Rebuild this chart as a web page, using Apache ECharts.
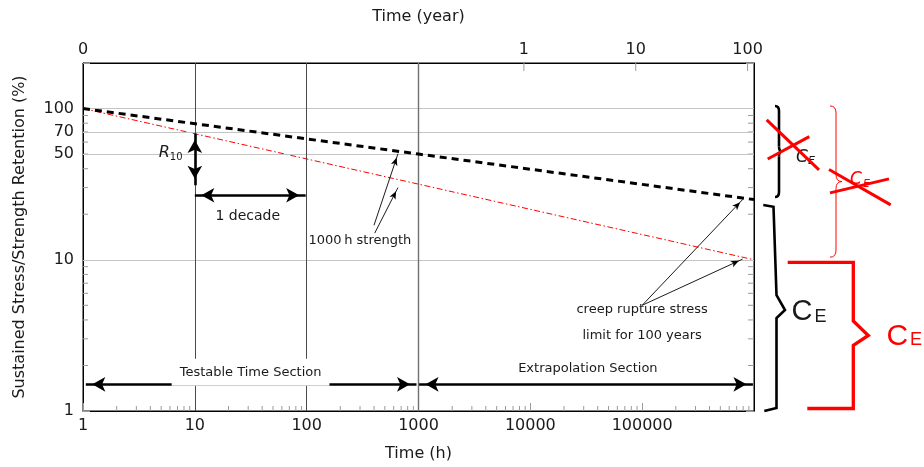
<!DOCTYPE html>
<html><head><meta charset="utf-8">
<script src="https://cdn.jsdelivr.net/npm/echarts@6/dist/echarts.min.js"></script>
<style>html,body{margin:0;padding:0;background:#fff}#c{width:924px;height:467px}</style>
</head><body><div id="c"></div>
<script>
// ---------------- data ----------------
const xRange = [1, 1000000];                 // time (h)
const yRange = [1, 200];                     // retention (%)
const hourTickLabels = [1, 10, 100, 1000, 10000, 100000];
const retentionTickLabels = [1, 10, 50, 70, 100];
const retentionGridLines = [10, 50, 70, 100];
const yearTickLabels = [0, 1, 10, 100];
const HOURS_PER_YEAR = 8760;
const sectionBoundaries = [10, 100, 1000];
const sustainedStress = [[1, 100], [1000, 50], [1000000, 25]];   // black dashed
const strengthRetention = [[1, 100], [1000000, 10]];             // red dash-dot
const r10Arrow = [[10, 68.3], [10, 31.1]];
const decadeArrow = [[10, 26.7], [98, 26.7]];
const testableArrow = [[1.06, 1.5], [960, 1.5]];
const extrapolationArrow = [[1012, 1.5], [978000, 1.5]];
const strengthPointers = [[[400, 16.9], [655, 50.2]], [[406, 15.0], [655, 30.0]]];
const creepPointers = [[[100000, 5.0], [795000, 25.1]], [[100000, 5.0], [790000, 10.1]]];
const crossedBraceBlack = [104, 26];
const crossedBraceRed = [104, 10.4];
const ceBraceBlack = [23, 1];
const ceBraceRed = [9.6, 1];

(function () {
// ---------------- chart ----------------
const FONT = '"DejaVu Sans", sans-serif';
const GRID = {left: 83, right: 170, top: 63, bottom: 56};
const tickGray = '#9a9a9a';

const chart = echarts.init(document.getElementById('c'));

function markLineSeries(name, z, mlData, lineStyle, extra) {
  return {
    name, type: 'line', data: [], z, silent: true,
    xAxisIndex: 0, yAxisIndex: 0,
    markLine: Object.assign({
      silent: true, animation: false, symbol: ['none', 'none'],
      label: {show: false}, lineStyle, data: mlData
    }, extra || {})
  };
}

const thickArrowEnd = (c) => ({coord: c, symbolOffset: [0, 6.5]});
const thinArrowEnd = (c) => ({coord: c, symbolOffset: [0, 4]});

const option = {
  animation: false,
  textStyle: {fontFamily: FONT},
  grid: Object.assign({show: true, borderColor: '#000', borderWidth: 1, containLabel: false, outerBoundsMode: 'none'}, GRID),
  xAxis: [{
    type: 'log', logBase: 10, min: xRange[0], max: xRange[1], position: 'bottom',
    axisLine: {show: true, lineStyle: {color: '#000', width: 1}},
    axisTick: {show: true, inside: true, length: 8, lineStyle: {color: tickGray}},
    axisLabel: {show: true, fontSize: 16, color: '#1a1a1a', margin: 7, showMaxLabel: false,
      formatter: v => hourTickLabels.indexOf(Math.round(v)) >= 0 ? String(Math.round(v)) : ''},
    splitLine: {show: false},
    name: 'Time (h)', nameLocation: 'middle', nameGap: 35,
    nameTextStyle: {fontSize: 16, color: '#1a1a1a', fontFamily: FONT}
  }, {
    type: 'log', logBase: 10, min: xRange[0], max: xRange[1], position: 'top',
    axisLine: {show: true, lineStyle: {color: '#000', width: 1}},
    axisTick: {show: false}, axisLabel: {show: false}, splitLine: {show: false},
    name: 'Time (year)', nameLocation: 'middle', nameGap: 38,
    nameTextStyle: {fontSize: 16, color: '#1a1a1a', fontFamily: FONT}
  }],
  yAxis: [{
    type: 'log', logBase: 10, min: yRange[0], max: yRange[1], position: 'left',
    axisLine: {show: true, lineStyle: {color: '#000', width: 1}},
    axisTick: {show: true, inside: true, length: 7, lineStyle: {color: tickGray}},
    axisLabel: {show: false}, splitLine: {show: false},
    name: 'Sustained Stress/Strength Retention (%)', nameLocation: 'middle', nameGap: 55,
    nameTextStyle: {fontSize: 16, color: '#1a1a1a', fontFamily: FONT}
  }, {
    type: 'log', logBase: 10, min: yRange[0], max: yRange[1], position: 'right',
    axisLine: {show: true, lineStyle: {color: '#000', width: 1}},
    axisTick: {show: true, inside: true, length: 8, lineStyle: {color: tickGray}},
    axisLabel: {show: false}, splitLine: {show: false}
  }],
  series: [
    markLineSeries('grid', 1, retentionGridLines.map(v => ({yAxis: v})), {color: '#c4c4c4', width: 1, type: 'solid'}),
    markLineSeries('sections', 2, sectionBoundaries.map(v => ({xAxis: v,
      lineStyle: {color: v === 1000 ? '#707070' : '#4a4a4a', width: v === 1000 ? 1.4 : 1, type: 'solid'}})),
      {color: '#4a4a4a', width: 1, type: 'solid'}),
    {
      name: 'Sustained stress', type: 'line', z: 5, data: sustainedStress,
      showSymbol: false, symbol: 'none', clip: false,
      lineStyle: {color: '#000', width: 3, type: [7, 5]}
    },
    {
      name: 'Strength retention', type: 'line', z: 4, data: strengthRetention,
      showSymbol: false, symbol: 'none', clip: false,
      lineStyle: {color: '#ff0000', width: 1, type: [6, 2.5, 1.5, 2.5]}
    },
    markLineSeries('thickArrows', 6, [
      [thickArrowEnd(r10Arrow[0]), thickArrowEnd(r10Arrow[1])],
      [thickArrowEnd(decadeArrow[0]), thickArrowEnd(decadeArrow[1])],
      [thickArrowEnd(testableArrow[0]), thickArrowEnd(testableArrow[1])],
      [thickArrowEnd(extrapolationArrow[0]), thickArrowEnd(extrapolationArrow[1])]
    ], {color: '#000', width: 2.6, type: 'solid'}, {symbol: ['arrow', 'arrow'], symbolSize: [11, 13]}),
    markLineSeries('thinArrows', 6, strengthPointers.concat(creepPointers).map(p => [
      {coord: p[0], symbol: 'none'}, thinArrowEnd(p[1])
    ]), {color: '#000', width: 0.9, type: 'solid'}, {symbol: ['none', 'arrow'], symbolSize: [5, 8]})
  ]
};
chart.setOption(option);

// ---------------- annotations (positions through the axes' scales) ----------------
const P = (x, y) => chart.convertToPixel({xAxisIndex: 0, yAxisIndex: 0}, [x, y]);
const Y = v => P(1, v)[1];
const X = v => P(v, 1)[0];
const g = [];
function text(x, y, str, style, z) {
  g.push({type: 'text', x, y, z: z || 60, silent: true,
    style: Object.assign({text: str, fill: '#1a1a1a', fontSize: 13, fontFamily: FONT,
      align: 'center', verticalAlign: 'middle'}, style)});
}
function seg(x1, y1, x2, y2, stroke, w, z) {
  g.push({type: 'line', z: z || 40, silent: true, shape: {x1, y1, x2, y2}, style: {stroke, lineWidth: w, lineCap: 'butt'}});
}
function curve(x1, y1, cx, cy, x2, y2, stroke, w) {
  g.push({type: 'bezierCurve', z: 40, silent: true, shape: {x1, y1, x2, y2, cpx1: cx, cpy1: cy},
    style: {stroke, lineWidth: w, fill: null}});
}
function poly(points, stroke, w) {
  g.push({type: 'polyline', z: 40, silent: true, shape: {points}, style: {stroke, lineWidth: w, fill: null, lineJoin: 'miter'}});
}
function brace(x0, x1, x2, yT, yB, ym, r, stroke, w) {
  curve(x0, yT, x1, yT, x1, yT + r, stroke, w);
  seg(x1, yT + r, x1, ym - r, stroke, w, 40);
  curve(x1, ym - r, x1, ym, x2, ym, stroke, w);
  curve(x2, ym, x1, ym, x1, ym + r, stroke, w);
  seg(x1, ym + r, x1, yB - r, stroke, w, 40);
  curve(x1, yB - r, x1, yB, x0, yB, stroke, w);
}

const pxLeft = X(xRange[0]), pxRight = X(xRange[1]);
const pxTop = Y(yRange[1]), pxBottom = Y(yRange[0]);

// minor ticks (log 2..9)
for (let k = 0; k < 6; k++) for (let m = 2; m <= 9; m++) {
  const px = X(m * Math.pow(10, k));
  seg(px, pxBottom, px, pxBottom - 5, tickGray, 1, 3);
}
for (let k = 0; k < 3; k++) for (let m = 2; m <= 9; m++) {
  const v = m * Math.pow(10, k);
  if (v >= yRange[1]) continue;
  const py = Y(v);
  seg(pxLeft, py, pxLeft + 5, py, tickGray, 1, 3);
  seg(pxRight, py, pxRight - 6, py, tickGray, 1, 3);
}
// y tick labels
retentionTickLabels.forEach(v => text(pxLeft - 9, Y(v), String(v), {align: 'right', fontSize: 16}));
// top (year) axis
yearTickLabels.forEach(v => {
  const px = v === 0 ? pxLeft : X(v * HOURS_PER_YEAR);
  text(px, pxTop - 13, String(v), {fontSize: 16});
  if (v !== 0) seg(px, pxTop, px, pxTop + 8, tickGray, 1, 3);
});

// R10 label
const r10p = P(10, 50.6);
text(r10p[0] - 25, r10p[1], 'R', {align: 'right', fontSize: 16, fontStyle: 'italic'});
text(r10p[0] - 25, r10p[1] + 4, '10', {align: 'left', fontSize: 10});
let p;
p = P(29.7, 19.5); text(p[0], p[1], '1 decade', {fontSize: 14});
p = P(299, 13.3); text(p[0], p[1], '1000\u2009h strength', {fontSize: 13});
p = P(100000, 4.68); text(p[0], p[1], 'creep rupture stress', {fontSize: 13});
p = P(100000, 3.17); text(p[0], p[1], 'limit for 100 years', {fontSize: 13});
p = P(31.5, 1.83); text(p[0], p[1] + 1, 'Testable Time Section', {fontSize: 13, backgroundColor: '#fff', padding: [6, 8, 8, 8]}, 80);
p = P(32700, 1.91); text(p[0], p[1], 'Extrapolation Section', {fontSize: 13});

const R = pxRight;
// black calligraphic brace (crossed)
(function () {
  const yT = Y(crossedBraceBlack[0]), yB = Y(crossedBraceBlack[1]), ym = (yT + yB) / 2;
  brace(R + 21, R + 25, R + 28, yT, yB, ym, 5, '#000', 2.6);
  text(R + 42, ym + 6, 'C', {align: 'left', fontSize: 17, fontStyle: 'italic'});
  text(R + 54, ym + 10, 'E', {align: 'left', fontSize: 11, fontStyle: 'italic'});
  seg(R + 12.7, yT + 14, R + 65, yT + 64, '#ff0000', 3, 70);
  seg(R + 13.7, yT + 53, R + 55.3, yT + 30.7, '#ff0000', 3, 70);
})();
// red thin brace (crossed)
(function () {
  const yT = Y(crossedBraceRed[0]), yB = Y(crossedBraceRed[1]), ym = (yT + yB) / 2;
  brace(R + 76, R + 82, R + 88, yT, yB, ym, 7, '#ff0000', 1);
  text(R + 96, ym - 2, 'C', {align: 'left', fontSize: 17, fontStyle: 'italic', fill: '#ff0000'});
  text(R + 109, ym + 3, 'E', {align: 'left', fontSize: 11, fontStyle: 'italic', fill: '#ff0000'});
  seg(R + 75, ym - 12, R + 136.7, ym + 23.3, '#ff0000', 3, 70);
  seg(R + 76, ym + 11.3, R + 135, ym - 2.7, '#ff0000', 3, 70);
})();
// black angular brace with CE
(function () {
  const yT = Y(ceBraceBlack[0]), yB = Y(ceBraceBlack[1]), ym = (yT + yB) / 2 + 2;
  const xa = R + 9.3, xb = R + 19.5, xc = R + 22.5, xt = R + 31;
  poly([[xa, yT], [xb, yT + 1.7], [xc, ym - 15], [xt, ym], [xc, ym + 8], [xc, yB - 3], [xa + 1, yB]], '#000', 2.6);
  text(R + 37.5, ym + 2, 'C', {align: 'left', fontSize: 29, fontFamily: '"Liberation Sans", Arial'});
  text(R + 60.5, ym + 7, 'E', {align: 'left', fontSize: 18, fontFamily: '"Liberation Sans", Arial'});
})();
// red angular bracket with CE
(function () {
  const yT = Y(ceBraceRed[0]), yB = Y(ceBraceRed[1]) - 2.5, ym = (yT + yB) / 2;
  const xs = R + 33.7, xv = R + 99.3, xt = R + 114.3, xe = R + 53.3;
  poly([[xs, yT], [xv, yT], [xv, ym - 14.5], [xt, ym], [xv, ym + 10], [xv, yB], [xe, yB]], '#ff0000', 3.3);
  text(R + 132.5, ym + 1, 'C', {align: 'left', fontSize: 30, fill: '#ff0000', fontFamily: '"Liberation Sans", Arial'});
  text(R + 156, ym + 5, 'E', {align: 'left', fontSize: 18, fill: '#ff0000', fontFamily: '"Liberation Sans", Arial'});
})();

chart.setOption({graphic: {elements: g}});
})();
</script>
</body></html>
